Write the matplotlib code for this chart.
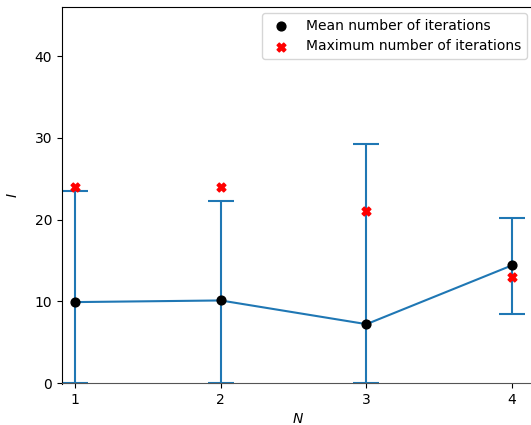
import matplotlib
matplotlib.use("Agg")
import matplotlib.pyplot as plt
import numpy as np

# iterations per N
n_values = [1, 2, 3, 4]
mean_iters = [9.9, 10.1, 7.2, 14.4]
lower_bound = [0.0, 0.0, 0.0, 8.5]
upper_bound = [23.5, 22.3, 29.2, 20.2]
max_iters = [24, 24, 21, 13]

mean_arr = np.array(mean_iters)
yerr = [mean_arr - np.array(lower_bound), np.array(upper_bound) - mean_arr]

fig = plt.figure(figsize=(5.31, 4.25), dpi=100)
ax = fig.add_axes([62 / 531, 41 / 425, 472 / 531, 377 / 425])

ax.errorbar(n_values, mean_iters, yerr=yerr, fmt='-', color='#1f77b4',
            capsize=9.5, capthick=1.5, zorder=2)
ax.scatter(n_values, mean_iters, color='black', s=40, zorder=3,
           label='Mean number of iterations')
ax.scatter(n_values, max_iters, color='red', marker='X', s=40, zorder=3,
           label='Maximum number of iterations')

ax.set_xlim(0.91, 4.15)
ax.set_ylim(-0.12, 46)
ax.set_xticks(n_values)
ax.set_yticks([0, 10, 20, 30, 40])
ax.spines['bottom'].set_position(('data', 0))
ax.spines['bottom'].set_color('#555555')
ax.spines['right'].set_visible(False)
ax.set_xlabel('$N$')
ax.set_ylabel('$I$')
ax.xaxis.set_label_coords(0.5, -0.075)
ax.yaxis.set_label_coords(-0.088, 0.5)

ax.legend(loc='upper right', bbox_to_anchor=(527 / 531, 1 - 13 / 425),
          bbox_transform=fig.transFigure, borderaxespad=0)

fig.savefig('out.png', dpi=100)
